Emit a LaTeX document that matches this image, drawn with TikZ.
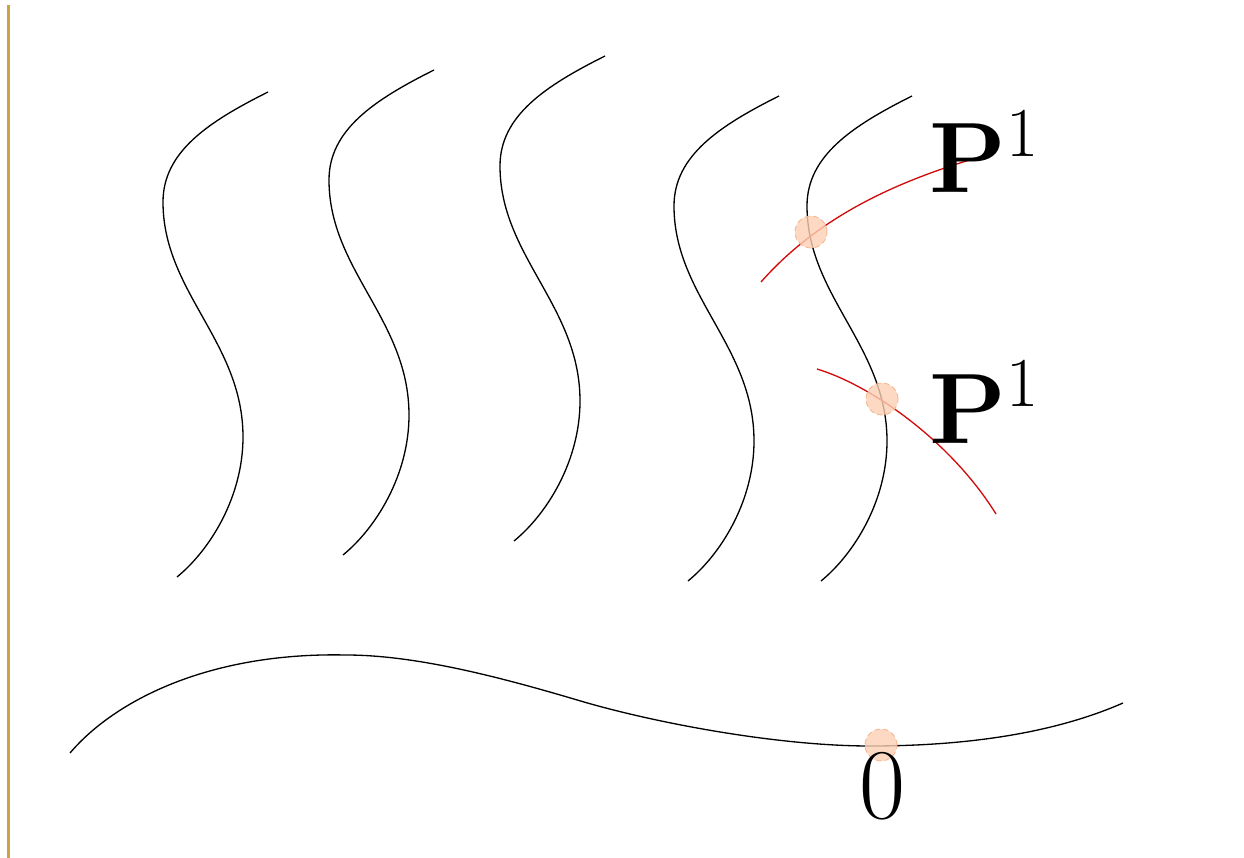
\RequirePackage{fix-cm}
\documentclass[tikz,border=0pt]{standalone}
\usepackage{amsmath}
\definecolor{goldline}{RGB}{204,163,64}
\definecolor{redcurve}{RGB}{210,10,10}
\definecolor{dotfill}{RGB}{252,208,180}
\definecolor{dotdraw}{RGB}{248,180,140}
\tikzset{
  fiber/.style={black, line width=0.75pt},
  redline/.style={redcurve, line width=0.75pt},
  ptdot/.style={circle, minimum size=0.64cm, inner sep=0pt, fill=dotfill, fill opacity=0.8, draw=dotdraw, densely dashed, line width=0.5pt},
  biglabel/.style={inner sep=0pt, font=\fontsize{57}{62}\selectfont},
}
\begin{document}
\begin{tikzpicture}[x=0.02cm, y=-0.02cm]
\useasboundingbox (0,0) rectangle (1244,858);
% left gold rule
\draw[goldline, line width=1.7pt] (8.5,5) -- (8.5,858);
% fibers
\foreach \tx/\ty in {268/92, 434/70, 605/56, 779/96, 912/96}{
  \draw[fiber, shift={(\tx,\ty)}] (0,0)
     .. controls (-60,30) and (-105,60) .. (-105,110)
     .. controls (-105,200) and (-25,250) .. (-25,345)
     .. controls (-25,405) and (-58,458) .. (-91,485);
}
% base curve
\draw[fiber] (70,753)
   .. controls (115,700) and (210,652) .. (346,655)
   .. controls (420,655) and (510,680) .. (584,702)
   .. controls (660,724) and (780,746) .. (870,746)
   .. controls (960,746) and (1050,735) .. (1123,703);
% red curves
\draw[redline] (761,282) .. controls (820,215) and (900,180) .. (983,156);
\draw[redline] (817,369) .. controls (870,385) and (950,440) .. (996,514);
% dots
\node[ptdot] (d1) at (811,232) {};
\node[ptdot] (d2) at (882,399) {};
\node[ptdot] (d0) at (881,745) {};
% labels
\node[biglabel, anchor=base west] (l1) at (929,193) {$\mathbf{P}^1$};
\node[biglabel, anchor=base west] (l2) at (929,443) {$\mathbf{P}^1$};
\node[biglabel, anchor=base] (l0) at (882,818) {$0$};
\end{tikzpicture}
\end{document}
